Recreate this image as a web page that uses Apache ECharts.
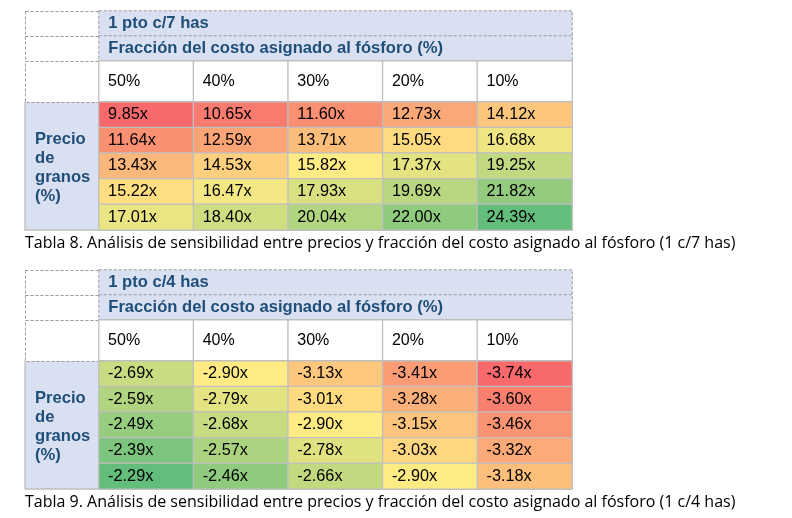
<!DOCTYPE html>
<html><head><meta charset="utf-8">
<script src="https://cdn.jsdelivr.net/npm/echarts@6/dist/echarts.min.js"></script>
<style>html,body{margin:0;padding:0;background:#fff}#c{width:792px;height:518px}</style>
</head><body><div id="c"></div>
<script>
// ---------- data ----------
const colLabels = ['50%', '40%', '30%', '20%', '10%'];
const rowKeys = ['r1', 'r2', 'r3', 'r4', 'r5'];
const subTitle = 'Fracción del costo asignado al fósforo (%)';
const rowTitle = ['Precio', 'de', 'granos', '(%)'];

const t8Title = '1 pto c/7 has';
const t8Values = [
  [9.85, 10.65, 11.60, 12.73, 14.12],
  [11.64, 12.59, 13.71, 15.05, 16.68],
  [13.43, 14.53, 15.82, 17.37, 19.25],
  [15.22, 16.47, 17.93, 19.69, 21.82],
  [17.01, 18.40, 20.04, 22.00, 24.39]
];
const t8Caption = 'Tabla 8. Análisis de sensibilidad entre precios y fracción del costo asignado al fósforo (1 c/7 has)';

const t9Title = '1 pto c/4 has';
const t9Values = [
  [-2.69, -2.90, -3.13, -3.41, -3.74],
  [-2.59, -2.79, -3.01, -3.28, -3.60],
  [-2.49, -2.68, -2.90, -3.15, -3.46],
  [-2.39, -2.57, -2.78, -3.03, -3.32],
  [-2.29, -2.46, -2.66, -2.90, -3.18]
];
const t9Caption = 'Tabla 9. Análisis de sensibilidad entre precios y fracción del costo asignado al fósforo (1 c/4 has)';

const scaleColors = ['#F8696B', '#FFEB84', '#63BE7B']; // min, 50th percentile, max

// ---------- style / layout ----------
const FONT = '"Liberation Sans", Arial, sans-serif';
const CAPTION_FONT = '"Open Sans", sans-serif';
const HEAD_BG = '#D9E0F2';
const HEAD_TXT = '#1F4E79';
const GRID_LINE = '#BFBFBF';
const DASH_LINE = '#9C9C9C';
const LEFT = 25, DATA_LEFT = 99, RIGHT = 572;
const H_TITLE = 25, H_PCT = 41, H_DATA = 128;

function hex2rgb(h) { return [1, 3, 5].map(i => parseInt(h.substr(i, 2), 16)); }
function mix(a, b, t) {
  const A = hex2rgb(a), B = hex2rgb(b);
  return 'rgb(' + A.map((v, i) => Math.round(v + (B[i] - v) * t)).join(',') + ')';
}
function scaleFor(values) {
  const flat = values.flat().slice().sort((a, b) => a - b);
  const min = flat[0], max = flat[flat.length - 1];
  const rank = 0.5 * (flat.length - 1);
  const lo = Math.floor(rank), hi = Math.ceil(rank);
  const mid = flat[lo] + (flat[hi] - flat[lo]) * (rank - lo);
  return v => v <= mid
    ? mix(scaleColors[0], scaleColors[1], mid === min ? 1 : (v - min) / (mid - min))
    : mix(scaleColors[1], scaleColors[2], (v - mid) / (max - mid));
}

const tables = [
  { top: 11, title: t8Title, values: t8Values, caption: t8Caption },
  { top: 270, title: t9Title, values: t9Values, caption: t9Caption }
];

const grid = [], xAxis = [], yAxis = [], series = [], graphic = [];
const hiddenAxis = { show: false };

tables.forEach((tb, k) => {
  const T = tb.top;
  const base = k * 3;
  grid.push({ left: DATA_LEFT, width: RIGHT - DATA_LEFT, top: T, height: 2 * H_TITLE });
  grid.push({ left: DATA_LEFT, width: RIGHT - DATA_LEFT, top: T + 2 * H_TITLE, height: H_PCT });
  grid.push({ left: DATA_LEFT, width: RIGHT - DATA_LEFT, top: T + 2 * H_TITLE + H_PCT, height: H_DATA });

  xAxis.push({ gridIndex: base, type: 'category', data: ['h'], ...hiddenAxis });
  yAxis.push({ gridIndex: base, type: 'category', data: ['t', 's'], inverse: true, ...hiddenAxis });
  xAxis.push({ gridIndex: base + 1, type: 'category', data: colLabels, ...hiddenAxis });
  yAxis.push({ gridIndex: base + 1, type: 'category', data: ['p'], ...hiddenAxis });
  xAxis.push({ gridIndex: base + 2, type: 'category', data: colLabels, ...hiddenAxis });
  yAxis.push({ gridIndex: base + 2, type: 'category', data: rowKeys, inverse: true, ...hiddenAxis });

  const headTexts = [tb.title, subTitle];
  series.push({
    type: 'heatmap', xAxisIndex: base, yAxisIndex: base,
    data: [[0, 0, 0], [0, 1, 0]],
    itemStyle: { color: HEAD_BG, borderColor: DASH_LINE, borderWidth: 1, borderType: [3, 2] },
    label: {
      show: true, position: 'insideLeft', distance: 10,
      formatter: p => headTexts[p.dataIndex],
      fontFamily: FONT, fontSize: 16.6, fontWeight: 'bold', color: HEAD_TXT
    },
    emphasis: { disabled: true }, silent: true
  });
  series.push({
    type: 'heatmap', xAxisIndex: base + 1, yAxisIndex: base + 1,
    data: colLabels.map((c, i) => [i, 0, 0]),
    itemStyle: { color: '#ffffff', borderColor: GRID_LINE, borderWidth: 1.3 },
    label: {
      show: true, position: 'insideLeft', distance: 10,
      formatter: p => colLabels[p.value[0]],
      fontFamily: FONT, fontSize: 16, color: '#000'
    },
    emphasis: { disabled: true }, silent: true
  });
  const colorOf = scaleFor(tb.values);
  const cells = [];
  tb.values.forEach((row, r) => row.forEach((v, c) => {
    cells.push({ value: [c, r, v], itemStyle: { color: colorOf(v) } });
  }));
  series.push({
    type: 'heatmap', xAxisIndex: base + 2, yAxisIndex: base + 2,
    data: cells,
    itemStyle: { borderColor: GRID_LINE, borderWidth: 1.3 },
    label: {
      show: true, position: 'insideLeft', distance: 10,
      formatter: p => p.value[2].toFixed(2) + 'x',
      fontFamily: FONT, fontSize: 16.3, color: '#000'
    },
    emphasis: { disabled: true }, silent: true
  });

  const w = DATA_LEFT - LEFT;
  const stubs = [[T, H_TITLE], [T + H_TITLE, H_TITLE], [T + 2 * H_TITLE, H_PCT]];
  const dataTop = T + 2 * H_TITLE + H_PCT;
  graphic.push({
    type: 'rect', shape: { x: LEFT, y: dataTop, width: w, height: H_DATA },
    style: { fill: HEAD_BG, stroke: GRID_LINE, lineWidth: 1.3 }, silent: true
  });
  stubs.forEach(s => graphic.push({
    type: 'rect', shape: { x: LEFT + 0.5, y: s[0] + 0.5, width: w, height: s[1] },
    style: { fill: '#ffffff', stroke: DASH_LINE, lineWidth: 1, lineDash: [3, 2] }, silent: true
  }));
  graphic.push({
    type: 'text', x: LEFT + 10, y: dataTop + H_DATA / 2 + 2,
    style: {
      text: rowTitle.join('\n'), fill: HEAD_TXT, fontFamily: FONT, fontSize: 16.6,
      fontWeight: 'bold', lineHeight: 19, verticalAlign: 'middle', align: 'left'
    }, silent: true
  });
  graphic.push({
    type: 'text', x: LEFT, y: dataTop + H_DATA + 13,
    style: {
      text: tb.caption, fill: '#000', fontFamily: CAPTION_FONT, fontSize: 16,
      verticalAlign: 'middle', align: 'left'
    }, silent: true
  });
});

const chart = echarts.init(document.getElementById('c'), null, { renderer: 'canvas' });
chart.setOption({
  animation: false,
  backgroundColor: '#ffffff',
  grid, xAxis, yAxis, series, graphic
});
</script>
</body></html>
